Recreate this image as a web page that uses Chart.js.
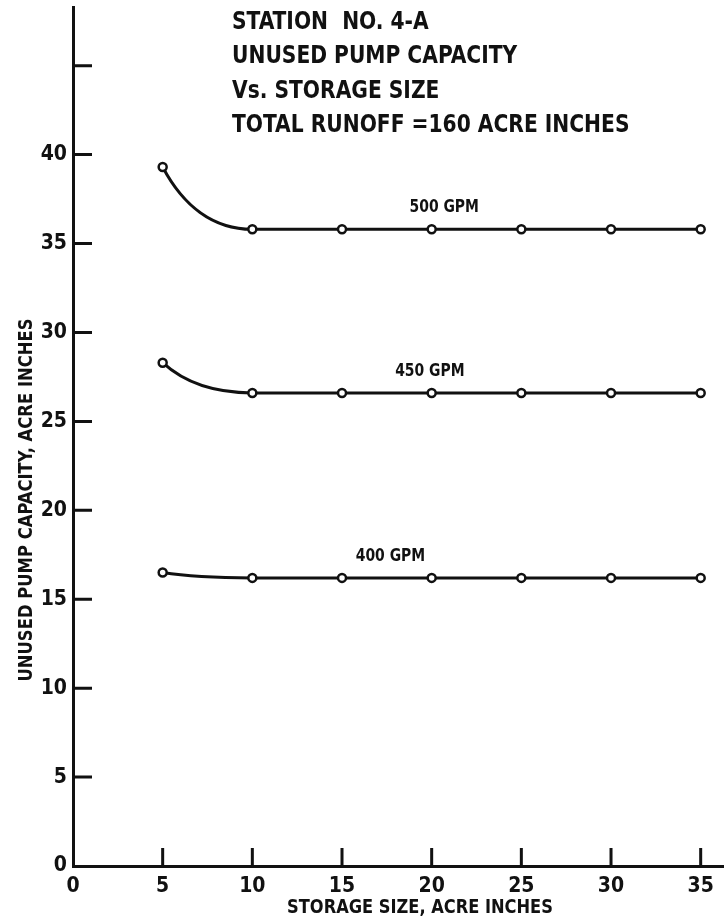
<!DOCTYPE html>
<html>
<head>
<meta charset="utf-8">
<script src="https://cdn.jsdelivr.net/npm/chart.js@4.4.0/dist/chart.umd.min.js"></script>
<style>
  html, body { margin: 0; padding: 0; background: #fff; overflow: hidden; }
  #wrap { width: 724px; height: 923px; position: relative; }
  #wrap canvas { display: block; }
</style>
</head>
<body>
<div id="wrap"><canvas id="chart"></canvas></div>
<script>
const FONT = "'Liberation Sans Narrow', 'DejaVu Sans Condensed', 'Roboto Condensed', 'Liberation Sans', sans-serif";

// Storage size, acre inches
const storageSize = [5, 10, 15, 20, 25, 30, 35];
// Unused pump capacity, acre inches
const gpm500 = [39.3, 35.8, 35.8, 35.8, 35.8, 35.8, 35.8];
const gpm450 = [28.3, 26.6, 26.6, 26.6, 26.6, 26.6, 26.6];
const gpm400 = [16.5, 16.2, 16.2, 16.2, 16.2, 16.2, 16.2];

const seriesNames = ["500 GPM", "450 GPM", "400 GPM"];
const labelAt = [20.7, 19.9, 17.7]; // x position of each curve's label

const xTicks = [0, 5, 10, 15, 20, 25, 30, 35];
const yTicks = [0, 5, 10, 15, 20, 25, 30, 35, 40, 45];
const yTickLabels = ["0", "5", "10", "15", "20", "25", "30", "35", "40", ""];

const titleLines = [
  "STATION  NO. 4-A",
  "UNUSED PUMP CAPACITY",
  "Vs. STORAGE SIZE",
  "TOTAL RUNOFF =160 ACRE INCHES",
];
const xTitle = "STORAGE SIZE, ACRE INCHES";
const yTitle = "UNUSED PUMP CAPACITY, ACRE INCHES";

function pts(ys) {
  return storageSize.map((x, i) => ({ x: x, y: ys[i] }));
}

function line(label, ys) {
  return {
    label: label,
    data: pts(ys),
    borderColor: "#111",
    borderWidth: 3,
    pointRadius: 4,
    pointBorderWidth: 2.5,
    pointBackgroundColor: "#fff",
    pointBorderColor: "#111",
    cubicInterpolationMode: "monotone",
    fill: false,
    clip: false,
  };
}

// narrow lettering: draw text squeezed horizontally
function squeezed(ctx, text, x, y, sx) {
  ctx.save();
  ctx.translate(x, y);
  ctx.scale(sx, 1);
  ctx.fillText(text, 0, 0);
  ctx.restore();
}

// The first segment drops steeply from x=5 and levels off at x=10.
const bend = {
  id: "bend",
  beforeDatasetDraw(chart, args) {
    const meta = args.meta;
    meta.dataset.updateControlPoints(chart.chartArea, "x");
    const p0 = meta.data[0];
    const p1 = meta.data[1];
    const dx = p1.x - p0.x;
    const dy = p1.y - p0.y;
    p0.cp2x = p0.x + dx * 0.22;
    p0.cp2y = p0.y + dy * 0.6;
    p1.cp1x = p1.x - dx * 0.45;
    p1.cp1y = p1.y;
  },
};

// Tick marks point inward, plus the free-standing text on the plot.
const decor = {
  id: "decor",
  afterDraw(chart) {
    const ctx = chart.ctx;
    const xs = chart.scales.x;
    const ys = chart.scales.y;
    const area = chart.chartArea;
    ctx.save();
    ctx.strokeStyle = "#111";
    ctx.lineWidth = 3;
    ctx.beginPath();
    yTicks.forEach((v) => {
      if (v === 0) return;
      const py = ys.getPixelForValue(v);
      ctx.moveTo(area.left, py);
      ctx.lineTo(area.left + 19, py);
    });
    xTicks.forEach((v) => {
      if (v === 0) return;
      const px = xs.getPixelForValue(v);
      ctx.moveTo(px, area.bottom);
      ctx.lineTo(px, area.bottom - 18);
    });
    ctx.stroke();

    ctx.fillStyle = "#111";
    ctx.textBaseline = "middle";

    // title block
    ctx.font = "bold 25px " + FONT;
    ctx.textAlign = "left";
    titleLines.forEach((t, i) => {
      squeezed(ctx, t, 232, 22 + i * 34.5, 0.9);
    });

    // curve labels
    ctx.font = "bold 18px " + FONT;
    ctx.textAlign = "center";
    [gpm500, gpm450, gpm400].forEach((vals, i) => {
      const px = xs.getPixelForValue(labelAt[i]);
      const py = ys.getPixelForValue(vals[vals.length - 1]) - 22;
      squeezed(ctx, seriesNames[i], px, py, 0.86);
    });

    // axis titles
    ctx.font = "bold 19px " + FONT;
    squeezed(ctx, xTitle, 420, 908, 0.95);
    ctx.translate(27, 500);
    ctx.rotate(-Math.PI / 2);
    squeezed(ctx, yTitle, 0, 0, 0.96);
    ctx.restore();
  },
};

new Chart(document.getElementById("chart"), {
  type: "line",
  data: {
    datasets: [line(seriesNames[0], gpm500), line(seriesNames[1], gpm450), line(seriesNames[2], gpm400)],
  },
  options: {
    responsive: true,
    maintainAspectRatio: false,
    animation: false,
    layout: { autoPadding: false, padding: { top: 7, right: 0, left: 0, bottom: 0 } },
    plugins: { legend: { display: false }, tooltip: { enabled: false } },
    scales: {
      x: {
        type: "linear",
        min: 0,
        max: 36.3,
        grid: { display: false, drawTicks: false },
        border: { display: true, color: "#111", width: 3 },
        afterBuildTicks: (s) => { s.ticks = xTicks.map((v) => ({ value: v })); },
        afterFit: (s) => { s.height = 57; s.paddingLeft = 0; s.paddingRight = 0; },
        ticks: {
          color: "#111",
          padding: 8,
          maxRotation: 0,
          font: { family: FONT, size: 21, weight: "bold" },
        },
      },
      y: {
        type: "linear",
        min: 0,
        max: 48.3,
        grid: { display: false, drawTicks: false },
        border: { display: true, color: "#111", width: 3 },
        afterBuildTicks: (s) => { s.ticks = yTicks.map((v) => ({ value: v })); },
        afterFit: (s) => { s.width = 73; s.paddingTop = 0; s.paddingBottom = 0; },
        ticks: {
          color: "#111",
          padding: 6,
          font: { family: FONT, size: 21, weight: "bold" },
          callback: (v) => yTickLabels[yTicks.indexOf(v)],
        },
      },
    },
  },
  plugins: [bend, decor],
});
</script>
</body>
</html>
